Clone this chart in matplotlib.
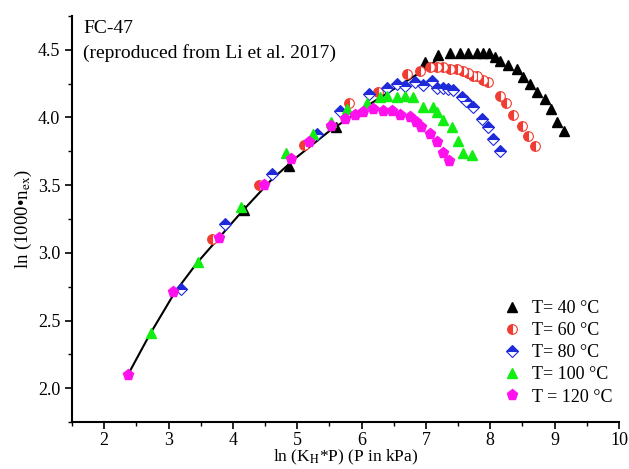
import matplotlib
matplotlib.use("Agg")
import matplotlib.pyplot as plt
from matplotlib.ticker import MultipleLocator

plt.rcParams['font.family'] = ['Liberation Serif', 'DejaVu Serif']
plt.rcParams['mathtext.fontset'] = 'stix'

# fitted curve (black line)
fit_x = [2.37, 2.7, 3.1, 3.45, 3.8, 4.15, 4.6, 5.0, 5.5, 6.0, 6.5, 7.0, 7.2]
fit_y = [2.10, 2.39, 2.71, 2.93, 3.12, 3.31, 3.54, 3.71, 3.90, 4.06, 4.21, 4.36, 4.44]

# T = 40 C
t40_x = [4.18, 4.87, 5.60, 6.98, 7.18, 7.37, 7.53, 7.65, 7.79, 7.88, 7.98, 8.07, 8.15,
         8.28, 8.41, 8.51, 8.62, 8.72, 8.85, 8.95, 9.03, 9.15]
t40_y = [3.32, 3.64, 3.93, 4.41, 4.46, 4.48, 4.48, 4.48, 4.48, 4.48, 4.48, 4.45, 4.42,
         4.39, 4.36, 4.30, 4.25, 4.19, 4.14, 4.06, 3.97, 3.90]

# T = 60 C
t60_x = [3.68, 4.41, 5.11, 5.81, 6.25, 6.70, 6.90, 7.06, 7.17, 7.26, 7.37, 7.48, 7.58,
         7.65, 7.73, 7.80, 7.88, 7.96, 8.15, 8.25, 8.35, 8.49, 8.59, 8.69]
t60_y = [3.10, 3.50, 3.80, 4.11, 4.19, 4.32, 4.34, 4.37, 4.37, 4.37, 4.36, 4.36, 4.34,
         4.33, 4.31, 4.31, 4.28, 4.26, 4.16, 4.11, 4.02, 3.94, 3.86, 3.79]

# T = 80 C
t80_x = [3.19, 3.88, 4.60, 5.30, 5.66, 6.12, 6.39, 6.55, 6.67, 6.83, 6.95, 7.09, 7.17,
         7.26, 7.34, 7.42, 7.56, 7.63, 7.73, 7.87, 7.96, 8.04, 8.15]
t80_y = [2.73, 3.21, 3.58, 3.88, 4.05, 4.17, 4.22, 4.25, 4.23, 4.26, 4.24, 4.27, 4.22,
         4.22, 4.21, 4.20, 4.15, 4.12, 4.08, 3.99, 3.93, 3.84, 3.75]

# T = 100 C
t100_x = [2.73, 3.45, 4.13, 4.82, 5.24, 5.53, 5.77, 6.09, 6.28, 6.40, 6.55, 6.67, 6.80,
          6.95, 7.11, 7.17, 7.26, 7.40, 7.50, 7.58, 7.71]
t100_y = [2.41, 2.93, 3.34, 3.74, 3.88, 3.97, 4.06, 4.11, 4.15, 4.16, 4.15, 4.16, 4.15,
          4.08, 4.08, 4.04, 3.98, 3.93, 3.83, 3.74, 3.72]

# T = 120 C
t120_x = [2.37, 3.07, 3.79, 4.49, 4.91, 5.19, 5.53, 5.74, 5.89, 6.02, 6.17, 6.33, 6.47,
          6.59, 6.75, 6.85, 6.93, 7.06, 7.17, 7.27, 7.36]
t120_y = [2.10, 2.71, 3.11, 3.50, 3.69, 3.82, 3.94, 3.99, 4.02, 4.04, 4.06, 4.05, 4.05,
          4.02, 4.00, 3.97, 3.93, 3.88, 3.82, 3.74, 3.68]

labels = ['T= 40 \u00b0C', 'T= 60 \u00b0C', 'T= 80 \u00b0C', 'T= 100 \u00b0C', 'T = 120 \u00b0C']

fig = plt.figure(figsize=(6.29, 4.69), dpi=100)
ax = fig.add_axes([0.1145, 0.1002, 0.8696, 0.8657])

ax.plot(fit_x, fit_y, color='black', lw=1.5, zorder=1)

ms = 7
ax.plot(t40_x, t40_y, ls='none', marker='^', ms=ms, color='black', label=labels[0])
ax.plot(t60_x, t60_y, ls='none', marker='o', ms=ms, color='#f03c32', fillstyle='left',
        markerfacecoloralt='white', markeredgewidth=0.8, label=labels[1])
ax.plot(t80_x, t80_y, ls='none', marker='D', ms=6.5, color='#1f2bd8', fillstyle='top',
        markerfacecoloralt='white', markeredgewidth=0.8, label=labels[2])
ax.plot(t100_x, t100_y, ls='none', marker='^', ms=ms, color='#11ee11', label=labels[3])
ax.plot(t120_x, t120_y, ls='none', marker='p', ms=8, color='#ff11ee', label=labels[4])

ax.set_xlim(1.5, 10)
ax.set_ylim(1.75, 4.75)
ax.xaxis.set_major_locator(MultipleLocator(1))
ax.xaxis.set_minor_locator(MultipleLocator(0.5))
ax.yaxis.set_major_locator(MultipleLocator(0.5))
ax.yaxis.set_minor_locator(MultipleLocator(0.25))
ax.tick_params(which='major', direction='out', length=5, width=1.2, labelsize=13)
ax.tick_params(which='minor', direction='out', length=3, width=1.0)
ax.tick_params(axis='x', pad=2)

for s in ['top', 'right']:
    ax.spines[s].set_visible(False)
for s in ['left', 'bottom']:
    ax.spines[s].set_linewidth(1.5)

ax.set_xlabel('ln (K$_\\mathrm{H}$*P) (P in kPa)', fontsize=12.5, labelpad=-1)
ax.set_ylabel('ln (1000\u2022n$_\\mathrm{ex}$)', fontsize=13.5, labelpad=3)

ax.text(0.02, 0.968, 'FC-47', transform=ax.transAxes, fontsize=14, va='center')
ax.text(0.02, 0.909, '(reproduced from Li et al. 2017)', transform=ax.transAxes,
        fontsize=14, va='center')

ax.legend(loc='upper left', bbox_to_anchor=(0.775, 0.322), frameon=False, fontsize=13,
          handlelength=0.8, handletextpad=0.7, labelspacing=0.28, borderpad=0)

fig.savefig('out.png', dpi=100)
